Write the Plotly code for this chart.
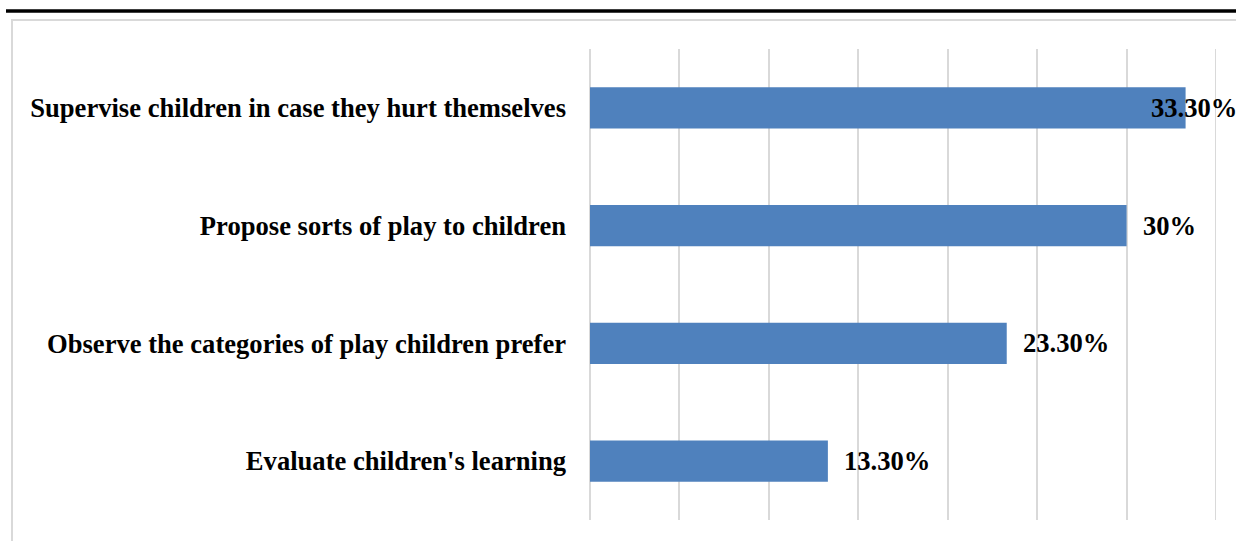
import plotly.graph_objects as go

categories = [
    "Evaluate children's learning",
    "Observe the categories of play children prefer",
    "Propose sorts of play to children",
    "Supervise children in case they hurt themselves",
]
values = [13.3, 23.3, 30.0, 33.3]
value_labels = ["13.30%", "23.30%", "30%", "33.30%"]

W, H = 1236, 541
L, R, T, B = 590, 20, 49, 21
pw = W - L - R
ph = H - T - B

def px_x(x):
    return (x - L) / pw

def px_y(y):
    return (H - B - y) / ph

font = "Liberation Serif, Times New Roman, serif"
FS = 26.6

fig = go.Figure()
fig.add_trace(go.Bar(
    y=categories, x=values, orientation="h",
    marker=dict(color="#4F81BD", line=dict(width=0)),
    width=0.35, hoverinfo="skip",
))

XMAX = 35
annotations = []
for c, v, t in zip(categories, values, value_labels):
    end_px = L + v / XMAX * pw
    if end_px + 16 + 86 > W:
        annotations.append(dict(x=1.0, xref="paper", y=c, yref="y", text=f"<b>{t}</b>",
                                showarrow=False, xanchor="right", xshift=R + 3,
                                font=dict(family=font, size=FS, color="black")))
    else:
        annotations.append(dict(x=v, xref="x", y=c, yref="y", text=f"<b>{t}</b>",
                                showarrow=False, xanchor="left", xshift=14,
                                font=dict(family=font, size=FS, color="black")))

fig.update_layout(
    width=W, height=H,
    margin=dict(l=L, r=R, t=T, b=B),
    paper_bgcolor="white", plot_bgcolor="white",
    showlegend=False,
    bargap=0.65,
    annotations=annotations,
    xaxis=dict(range=[0, XMAX], dtick=5, showgrid=True, gridcolor="#D9D9D9", gridwidth=2,
               showticklabels=False, zeroline=True, zerolinecolor="#D9D9D9", zerolinewidth=2,
               showline=False, fixedrange=True),
    yaxis=dict(categoryorder="array", categoryarray=categories, showgrid=False,
               ticks="", ticklabelstandoff=23, showline=False,
               tickfont=dict(family=font, size=FS, color="black"), fixedrange=True),
    shapes=[
        dict(type="line", xref="paper", yref="paper", x0=px_x(6), x1=px_x(1240),
             y0=px_y(11), y1=px_y(11), line=dict(color="black", width=3.5)),
        dict(type="rect", xref="paper", yref="paper", x0=px_x(12), x1=px_x(1245),
             y0=px_y(20), y1=px_y(560), line=dict(color="#D9D9D9", width=2), layer="below"),
        dict(type="line", xref="x", yref="paper", x0=XMAX, x1=XMAX, y0=0, y1=1,
             line=dict(color="#D9D9D9", width=2), layer="below"),
    ],
)
fig.update_yaxes(tickvals=categories, ticktext=[f"<b>{c}</b>" for c in categories])

fig.write_html("out.html")
